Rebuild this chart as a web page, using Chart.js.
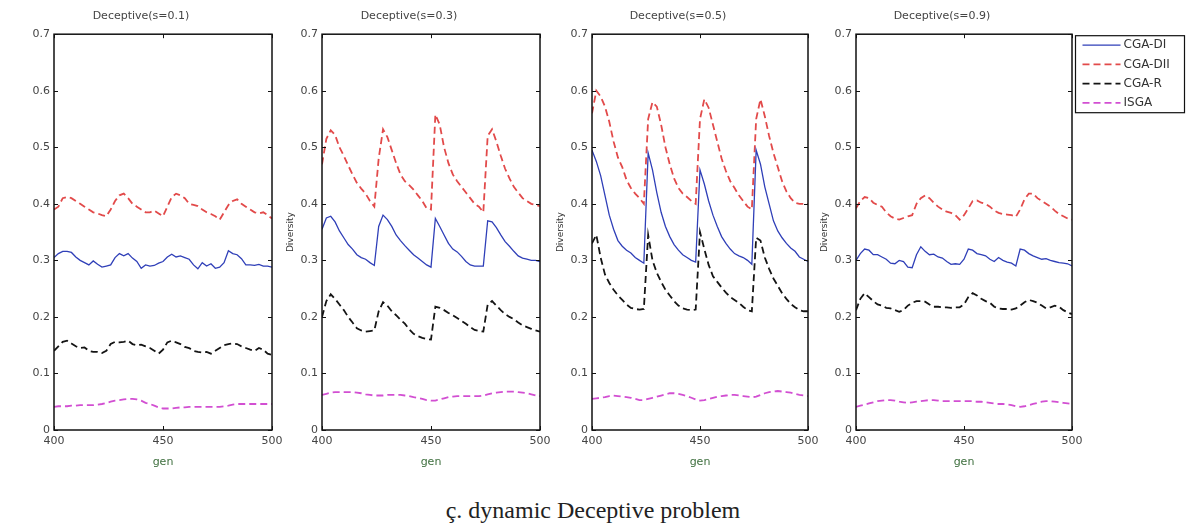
<!DOCTYPE html>
<html>
<head>
<meta charset="utf-8">
<script src="https://cdn.jsdelivr.net/npm/chart.js@4.4.0/dist/chart.umd.min.js"></script>
<style>
  body { margin: 0; background: #fff; }
  #wrap { position: relative; width: 1186px; height: 528px; overflow: hidden; background: #fff; }
  #wrap canvas { position: absolute; top: 0; }
  #caption { position: absolute; left: 0; top: 497px; width: 1186px; text-align: center;
             font-family: "Liberation Serif", "Times New Roman", serif; font-size: 24px; color: #222; }
</style>
</head>
<body>
<div id="wrap">
  <canvas id="c0"></canvas>
  <canvas id="c1"></canvas>
  <canvas id="c2"></canvas>
  <canvas id="c3"></canvas>
  <div id="caption">ç. dynamic Deceptive problem</div>
</div>
<script>
// generations on the x axis (every 2nd generation)
const gens = [400,402,404,406,408,410,412,414,416,418,420,422,424,426,428,430,432,434,436,438,440,442,444,446,448,450,
              452,454,456,458,460,462,464,466,468,470,472,474,476,478,480,482,484,486,488,490,492,494,496,498,500];
const seriesNames = ['CGA-DI', 'CGA-DII', 'CGA-R', 'ISGA'];
const panelTitles = ['Deceptive(s=0.1)', 'Deceptive(s=0.3)', 'Deceptive(s=0.5)', 'Deceptive(s=0.9)'];

// s = 0.1
const di_s01 = [.305,.312,.316,.316,.314,.306,.300,.296,.292,.299,.293,.288,.290,.292,.305,.312,.308,.312,.304,.298,.286,.292,.290,.291,.295,.298,
                .306,.311,.306,.308,.305,.302,.292,.285,.296,.290,.294,.286,.288,.296,.317,.312,.310,.303,.292,.292,.291,.293,.290,.290,.288];
const dii_s01 = [.39,.395,.41,.412,.41,.405,.40,.395,.39,.385,.383,.38,.378,.39,.405,.415,.418,.41,.40,.395,.39,.385,.385,.388,.383,.378,
                 .395,.412,.418,.415,.41,.40,.398,.396,.39,.385,.382,.378,.372,.385,.398,.405,.408,.40,.395,.39,.385,.383,.385,.38,.374];
const r_s01 = [.14,.148,.156,.158,.153,.148,.145,.146,.14,.138,.138,.136,.14,.152,.156,.155,.156,.158,.152,.15,.151,.148,.145,.14,.135,.142,
               .155,.158,.155,.152,.147,.145,.14,.138,.137,.138,.135,.14,.145,.15,.152,.153,.152,.148,.145,.142,.14,.145,.142,.135,.133];
const isga_s01 = [.041,.042,.042,.042,.043,.043,.044,.044,.044,.044,.045,.046,.048,.05,.052,.053,.054,.055,.055,.054,.052,.048,.046,.043,.04,.038,
                  .038,.038,.039,.04,.04,.041,.041,.041,.041,.041,.041,.041,.041,.042,.043,.045,.046,.046,.046,.046,.046,.046,.046,.046,.046];

// s = 0.3
const di_s03 = [.355,.375,.378,.368,.352,.34,.328,.32,.31,.305,.302,.296,.291,.36,.38,.372,.36,.345,.335,.326,.318,.31,.304,.298,.292,.288,
                .374,.36,.345,.33,.32,.315,.307,.298,.292,.29,.29,.29,.37,.368,.358,.345,.333,.325,.316,.308,.304,.302,.30,.30,.298];
const dii_s03 = [.47,.515,.53,.522,.50,.485,.468,.452,.437,.427,.418,.405,.395,.48,.532,.518,.495,.472,.452,.44,.433,.425,.415,.405,.392,.39,
                 .558,.54,.50,.472,.452,.44,.43,.42,.41,.40,.395,.385,.52,.532,.51,.485,.462,.445,.43,.42,.41,.405,.40,.398,.396];
const r_s03 = [.20,.228,.24,.232,.222,.212,.20,.19,.18,.176,.174,.175,.176,.21,.226,.22,.21,.203,.195,.188,.178,.17,.166,.163,.161,.16,
               .218,.216,.212,.207,.203,.198,.193,.188,.182,.177,.175,.174,.222,.228,.22,.212,.205,.20,.196,.19,.185,.182,.179,.176,.174];
const isga_s03 = [.062,.064,.066,.067,.067,.067,.067,.067,.066,.065,.063,.062,.061,.061,.061,.062,.062,.062,.062,.061,.06,.058,.057,.055,.053,.052,
                  .052,.054,.056,.058,.059,.06,.06,.06,.06,.06,.06,.061,.063,.065,.066,.067,.068,.068,.068,.067,.066,.065,.063,.061,.06];

// s = 0.5
const di_s05 = [.495,.475,.45,.415,.38,.355,.335,.325,.318,.313,.305,.30,.295,.49,.46,.42,.385,.36,.342,.328,.318,.31,.305,.30,.297,.46,
                .435,.405,.38,.36,.342,.33,.32,.312,.308,.305,.30,.293,.495,.47,.43,.40,.37,.352,.34,.33,.322,.316,.306,.302,.298];
const dii_s05 = [.56,.60,.59,.572,.545,.51,.482,.465,.442,.428,.418,.41,.40,.55,.58,.572,.54,.50,.47,.445,.428,.418,.412,.405,.40,.55,
                 .585,.57,.54,.51,.48,.458,.44,.428,.415,.405,.395,.39,.55,.585,.555,.52,.49,.465,.44,.422,.41,.402,.40,.40,.40];
const r_s05 = [.33,.345,.305,.275,.26,.248,.238,.23,.222,.216,.214,.213,.214,.345,.30,.278,.262,.248,.238,.228,.22,.215,.213,.212,.213,.35,
               .32,.292,.272,.262,.252,.243,.235,.23,.225,.218,.212,.21,.34,.335,.305,.285,.268,.255,.242,.232,.223,.217,.212,.21,.21];
const isga_s05 = [.055,.056,.057,.058,.06,.061,.06,.059,.058,.057,.055,.053,.053,.055,.057,.059,.061,.063,.065,.065,.064,.062,.06,.057,.054,.052,
                  .053,.055,.057,.059,.06,.061,.062,.062,.061,.06,.059,.058,.059,.062,.065,.067,.068,.069,.068,.067,.066,.064,.062,.061,.06];

// s = 0.9
const di_s09 = [.30,.312,.32,.318,.31,.31,.306,.302,.295,.294,.30,.298,.288,.287,.31,.324,.316,.31,.311,.306,.304,.298,.293,.294,.293,.302,
                .32,.318,.312,.31,.308,.302,.298,.305,.30,.297,.295,.29,.32,.318,.312,.308,.305,.302,.303,.30,.298,.296,.295,.294,.29];
const dii_s09 = [.392,.405,.412,.41,.402,.398,.395,.385,.378,.374,.372,.375,.378,.38,.40,.41,.415,.41,.402,.395,.39,.386,.384,.38,.372,.38,
                 .392,.405,.406,.402,.40,.395,.388,.384,.382,.381,.38,.377,.39,.408,.418,.418,.41,.405,.40,.395,.388,.382,.378,.374,.372];
const r_s09 = [.212,.232,.242,.235,.228,.222,.22,.216,.215,.212,.209,.212,.22,.225,.228,.228,.227,.222,.218,.218,.217,.217,.216,.217,.217,.222,
               .235,.242,.238,.232,.228,.225,.218,.215,.214,.214,.213,.215,.22,.226,.23,.228,.225,.22,.215,.217,.22,.218,.212,.208,.205];
const isga_s09 = [.041,.043,.045,.047,.049,.051,.052,.053,.053,.052,.05,.049,.048,.049,.05,.051,.052,.053,.053,.052,.051,.051,.051,.051,.051,.051,
                  .051,.051,.05,.05,.049,.048,.047,.046,.046,.045,.044,.042,.041,.042,.044,.046,.048,.05,.051,.051,.05,.049,.048,.047,.046];

const panelData = [
  [di_s01, dii_s01, r_s01, isga_s01],
  [di_s03, dii_s03, r_s03, isga_s03],
  [di_s05, dii_s05, r_s05, isga_s05],
  [di_s09, dii_s09, r_s09, isga_s09]
];

// looks
const lineStyles = [
  { borderColor: '#2f3fb8', borderWidth: 1.3, borderDash: [] },
  { borderColor: '#e24a4a', borderWidth: 1.8, borderDash: [7, 4] },
  { borderColor: '#141414', borderWidth: 1.8, borderDash: [7, 4] },
  { borderColor: '#d24fd2', borderWidth: 1.8, borderDash: [7, 4] }
];
const panelLeft = [54, 322, 592, 856];
const panelRight = [272, 540, 808, 1072];
const FONT = 'DejaVu Sans';
const AXIS_W = 44;

const framePlugin = {
  id: 'frame',
  afterDraw(chart) {
    const ctx = chart.ctx, a = chart.chartArea, x = chart.scales.x, y = chart.scales.y;
    ctx.save();
    ctx.strokeStyle = '#111';
    ctx.lineWidth = 1.5;
    ctx.strokeRect(a.left, a.top, a.right - a.left, a.bottom - a.top);
    ctx.lineWidth = 1;
    ctx.beginPath();
    y.ticks.forEach(function(t) {
      const py = Math.round(y.getPixelForValue(t.value)) + 0.5;
      ctx.moveTo(a.left, py); ctx.lineTo(a.left + 4, py);
      ctx.moveTo(a.right, py); ctx.lineTo(a.right - 4, py);
    });
    x.ticks.forEach(function(t) {
      const px = Math.round(x.getPixelForValue(t.value)) + 0.5;
      ctx.moveTo(px, a.bottom); ctx.lineTo(px, a.bottom - 4);
      ctx.moveTo(px, a.top); ctx.lineTo(px, a.top + 4);
    });
    ctx.stroke();
    ctx.restore();
  }
};

const legendPlugin = {
  id: 'boxLegend',
  afterDraw(chart) {
    const ctx = chart.ctx, a = chart.chartArea;
    const x0 = a.right + 3.5, y0 = a.top + 1.5, x1 = chart.width - 1.5, y1 = y0 + 77;
    ctx.save();
    ctx.strokeStyle = '#111';
    ctx.lineWidth = 1.2;
    ctx.strokeRect(x0, y0, x1 - x0, y1 - y0);
    chart.data.datasets.forEach(function(ds, k) {
      const cy = y0 + 9.5 + k * 19.2;
      ctx.strokeStyle = ds.borderColor;
      ctx.lineWidth = ds.borderWidth;
      ctx.setLineDash(ds.borderDash);
      ctx.beginPath();
      ctx.moveTo(x0 + 7, cy);
      ctx.lineTo(x0 + 45, cy);
      ctx.stroke();
      ctx.setLineDash([]);
      ctx.fillStyle = '#333';
      ctx.font = '12px "' + FONT + '"';
      ctx.textBaseline = 'middle';
      ctx.fillText(ds.label, x0 + 48, cy);
    });
    ctx.restore();
  }
};

function makePanel(i) {
  const canvas = document.getElementById('c' + i);
  const last = i === 3;
  const padRight = last ? 1186 - panelRight[i] : 16;
  canvas.width = AXIS_W + (panelRight[i] - panelLeft[i]) + padRight;
  canvas.height = 480;
  canvas.style.left = (panelLeft[i] - AXIS_W) + 'px';

  const datasets = panelData[i].map(function(values, k) {
    return Object.assign({
      label: seriesNames[k],
      data: gens.map(function(g, j) { return { x: g, y: values[j] }; }),
      pointRadius: 0,
      tension: 0,
      fill: false
    }, lineStyles[k]);
  });

  new Chart(canvas, {
    type: 'line',
    data: { datasets: datasets },
    options: {
      responsive: false,
      animation: false,
      devicePixelRatio: 1,
      layout: { padding: { left: 0, right: padRight, top: 0, bottom: 0 } },
      plugins: {
        legend: { display: false },
        tooltip: { enabled: false },
        title: {
          display: true, text: panelTitles[i], color: '#444',
          font: { family: FONT, size: 11, weight: 'normal' },
          padding: { top: 10, bottom: 11 }
        }
      },
      scales: {
        x: {
          type: 'linear', min: 400, max: 500,
          grid: { display: false, drawTicks: false },
          border: { display: false },
          ticks: { stepSize: 50, color: '#444', font: { family: FONT, size: 11 }, padding: 5, maxRotation: 0 },
          title: { display: true, text: 'gen', color: '#3d6e3d', font: { family: FONT, size: 11 }, padding: { top: 0, bottom: 11 } },
          afterFit: function(s) { s.height = 50; }
        },
        y: {
          min: 0, max: 0.7,
          grid: { display: false, drawTicks: false },
          border: { display: false },
          ticks: { stepSize: 0.1, color: '#444', font: { family: FONT, size: 11 }, padding: 4 },
          title: { display: i > 0, text: 'Diversity', color: '#333', font: { family: FONT, size: 9 }, padding: { top: 7, bottom: 0 } },
          afterFit: function(s) { s.width = AXIS_W; }
        }
      }
    },
    plugins: last ? [framePlugin, legendPlugin] : [framePlugin]
  });
}

for (let i = 0; i < 4; i++) makePanel(i);
</script>
</body>
</html>
